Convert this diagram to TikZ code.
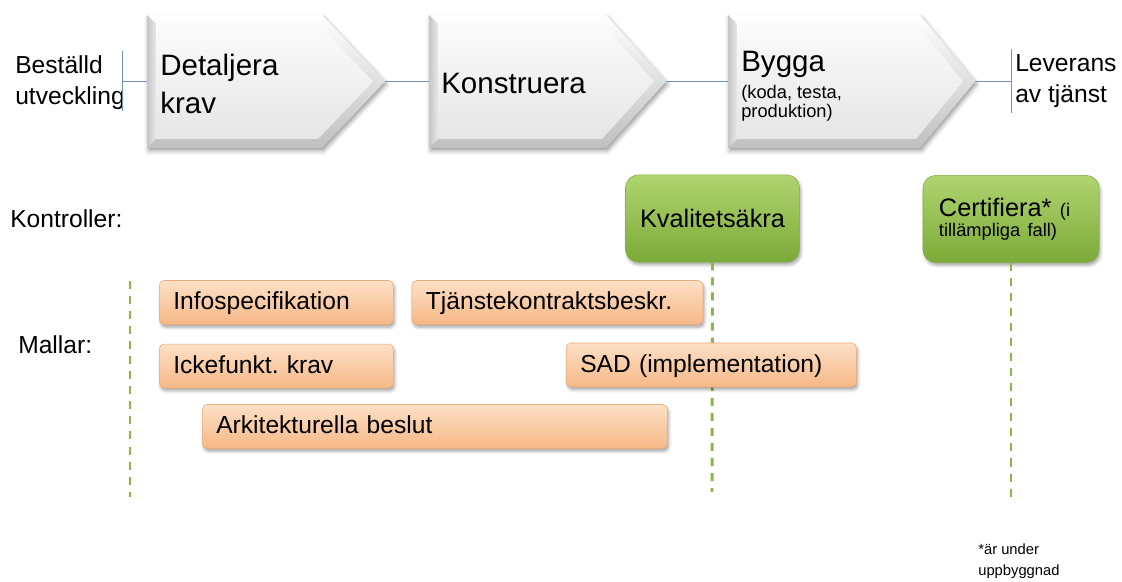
\documentclass[tikz,border=0pt]{standalone}
\usepackage{fontspec}
\setmainfont{Liberation Sans}
\frenchspacing
\usepackage{xcolor}
\definecolor{link-blue}{RGB}{112,146,190}
\definecolor{green-top}{RGB}{176,212,112}
\definecolor{green-bot}{RGB}{124,170,56}
\definecolor{green-edge}{RGB}{132,176,66}
\definecolor{green-dash}{RGB}{140,182,70}
\definecolor{orange-top}{RGB}{253,224,198}
\definecolor{orange-bot}{RGB}{246,184,134}
\definecolor{orange-edge}{RGB}{234,172,122}
\usepackage{tikz}
\usetikzlibrary{shadows.blur,positioning}

\begin{document}
\begin{tikzpicture}[
    x=0.025cm, y=-0.025cm,
    stage/.style={top color=white, bottom color=gray!50, blur shadow={shadow xshift=1pt, shadow yshift=-2pt, shadow blur radius=3pt, shadow opacity=40}},
    stage bevel/.style={left color=gray!45, right color=gray!18},
    stage face/.style={top color=gray!3, bottom color=gray!20},
    stage text/.style={anchor=west, align=left, inner sep=0pt, font=\fontsize{21}{27}\selectfont},
    side text/.style={anchor=west, align=left, inner sep=0pt, font=\fontsize{17.5}{22}\selectfont},
    link/.style={link-blue, line width=0.6pt},
    check box/.style={rounded corners=0.32cm, draw=green-edge, line width=0.4pt, top color=green-top, bottom color=green-bot, minimum width=4.35cm, minimum height=2.18cm, blur shadow={shadow xshift=1pt, shadow yshift=-2pt, shadow opacity=35}},
    mall box/.style={rounded corners=0.12cm, draw=orange-edge, line width=0.4pt, top color=orange-top, bottom color=orange-bot, text width=#1, minimum height=1.1cm, inner xsep=0.35cm, inner ysep=0pt, text height=14pt, text depth=3.4pt, anchor=west, font=\fontsize{17.5}{21}\selectfont, blur shadow={shadow xshift=1pt, shadow yshift=-2pt, shadow opacity=35}},
    milestone/.style={green-dash, line width=2.1pt, dash pattern=on 5.7pt off 5pt}
]
\useasboundingbox (0,0) rectangle (1122,582);

% Stage 1 - Detaljera krav
\path[stage] (147,15) -- (322,15) -- (385,81.5) -- (322,148) -- (147,148) -- cycle;
\path[stage bevel] (147,15) -- (156,24) -- (156,139) -- (147,148) -- cycle;
\path[stage face] (156,24) -- (318,24) -- (373,81.5) -- (318,139) -- (156,139) -- cycle;
\coordinate (s1w) at (147,81.5);
\coordinate (s1e) at (385,81.5);
\node[stage text] (s1) at (160,83.5) {Detaljera\\krav};

% Stage 2 - Konstruera
\path[stage] (429,15) -- (606,15) -- (666,81.5) -- (606,148) -- (429,148) -- cycle;
\path[stage bevel] (429,15) -- (438,24) -- (438,139) -- (429,148) -- cycle;
\path[stage face] (438,24) -- (602,24) -- (654,81.5) -- (602,139) -- (438,139) -- cycle;
\coordinate (s2w) at (429,81.5);
\coordinate (s2e) at (666,81.5);
\node[stage text] (s2) at (441,83) {Konstruera};

% Stage 3 - Bygga
\path[stage] (728,15) -- (920,15) -- (975,81.5) -- (920,148) -- (728,148) -- cycle;
\path[stage bevel] (728,15) -- (737,24) -- (737,139) -- (728,148) -- cycle;
\path[stage face] (737,24) -- (916,24) -- (963,81.5) -- (916,139) -- (737,139) -- cycle;
\coordinate (s3w) at (728,81.5);
\coordinate (s3e) at (975,81.5);
\node[stage text, anchor=base west] (s3) at (741,72) {Bygga};
\node[anchor=west, align=left, inner sep=0pt, font=\fontsize{13}{13.5}\selectfont] (s3sub) at (741,103) {(koda, testa,\\produktion)};

% Start and end of the flow
\coordinate (start) at (122,81.5);
\coordinate (end) at (1011,81.5);
\node[side text] (order) at (15,83) {Beställd\\utveckling};
\node[side text] (delivery) at (1015,81) {Leverans\\av tjänst};
\draw[link] (start) ++(0,-30) -- ++(0,60);
\draw[link] (end) ++(0,-32) -- ++(0,64);

% Links between stages
\draw[link] (start) -- (s1w);
\draw[link] (s1e) -- (s2w);
\draw[link] (s2e) -- (s3w);
\draw[link] (s3e) -- (end);

% Row labels
\node[side text, anchor=base west] (kontroller) at (10,228) {Kontroller:};
\node[side text, anchor=base west] (mallar) at (18,354) {Mallar:};

% Controls
\node[check box, font=\fontsize{18}{22}\selectfont] (kval) at (712.5,218.5) {Kvalitetsäkra};
\node[check box, text width=3.6cm, align=left, inner xsep=0.4cm, font=\fontsize{18}{14.5}\selectfont] (cert) at (1011,219) {Certifiera* {\fontsize{13}{14.5}\selectfont(i\\tillämpliga\hspace{0.4em}fall)}};

% Dashed milestone lines
\coordinate (early) at (130,281);
\coordinate (early-end) at (130,497);
\coordinate (kval-end) at (712,492);
\coordinate (cert-end) at (1011,500);
\draw[milestone] (early) -- (early-end);
\draw[milestone] (kval.south) -- (kval-end);
\draw[milestone] (cert.south) -- (cert-end);

% Templates
\node[mall box=5.15cm] (info) at (159,302.5) {Infospecifikation};
\node[mall box=6.575cm, right=0.45cm of info] (tjanst) {Tjänstekontraktsbeskr.};
\node[mall box=5.15cm, below=0.475cm of info.south west, anchor=north west] (ickef) {Ickefunkt. krav};
\node[mall box=6.55cm] (sad) at (566,365) {SAD (implementation)};
\node[mall box=10.925cm] (arkit) at (202,426.5) {Arkitekturella beslut};

% Footnote
\node[anchor=west, align=left, inner sep=0pt, font=\fontsize{10.5}{15}\selectfont] (note) at (978,561) {*är under\\uppbyggnad};

\end{tikzpicture}
\end{document}
